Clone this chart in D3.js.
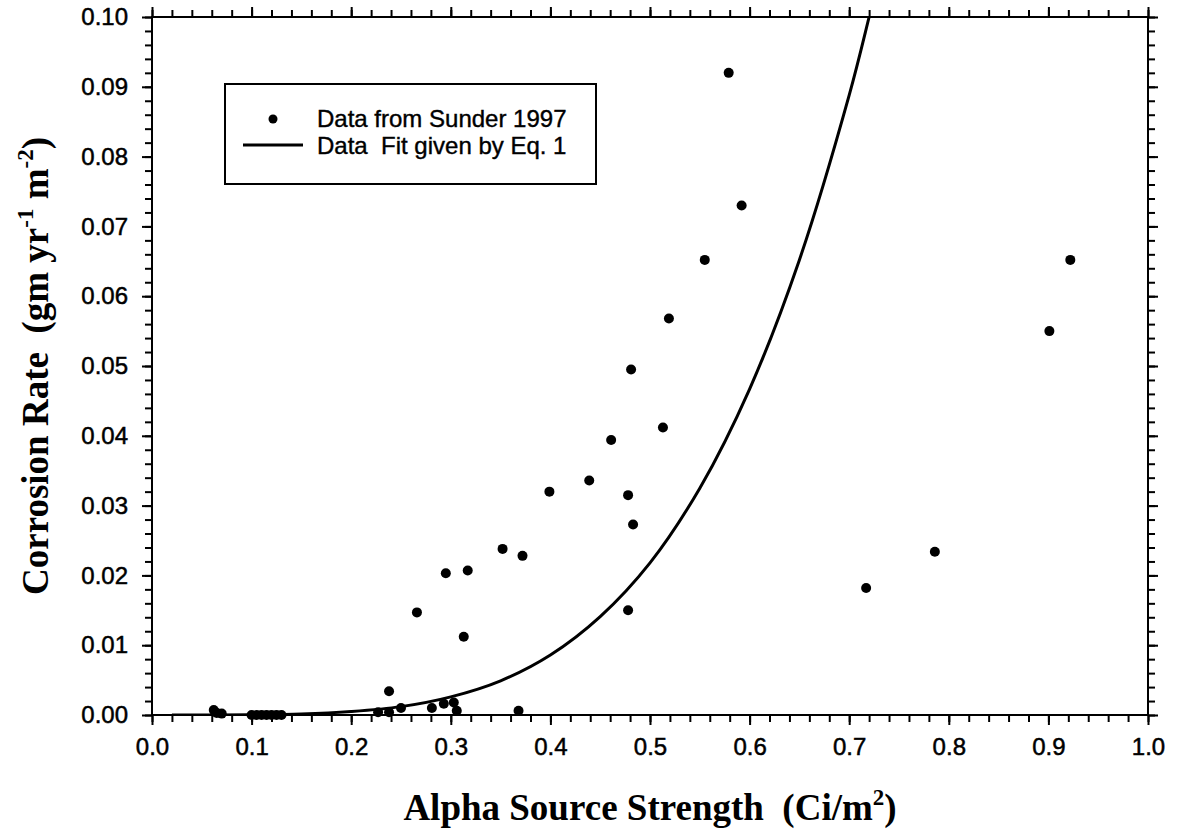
<!DOCTYPE html>
<html>
<head>
<meta charset="utf-8">
<script src="https://cdn.jsdelivr.net/npm/d3@7"></script>
<style>
  body { margin: 0; background: #fff; }
  .tick-label { font-family: Arial, "Liberation Sans", sans-serif; font-size: 24px; fill: #000; stroke: #000; stroke-width: 0.5px; }
  .axis-title { font-family: "Times New Roman", "Liberation Serif", serif; font-weight: bold; font-size: 37px; fill: #000; }
  .legend-text { font-family: Arial, "Liberation Sans", sans-serif; font-size: 24px; fill: #000; stroke: #000; stroke-width: 0.4px; }
</style>
</head>
<body>
<div id="chart"></div>
<script>
// measured points (Sunder 1997)
const sunderX = [0.062, 0.065, 0.070, 0.100, 0.105, 0.110, 0.115, 0.120, 0.125, 0.130,
  0.227, 0.238, 0.238, 0.250, 0.281, 0.293, 0.303, 0.306, 0.368,
  0.266, 0.295, 0.313, 0.317, 0.352, 0.372, 0.399, 0.439, 0.461, 0.478,
  0.481, 0.483, 0.478, 0.513, 0.519, 0.555, 0.579, 0.592, 0.717, 0.786, 0.901, 0.922];
const sunderY = [0.0007, 0.0003, 0.0002, 0, 0, 0, 0, 0, 0, 0,
  0.0004, 0.0004, 0.0034, 0.0010, 0.0010, 0.0016, 0.0018, 0.0006, 0.0006,
  0.0147, 0.0203, 0.0112, 0.0207, 0.0238, 0.0228, 0.0320, 0.0336, 0.0394, 0.0315,
  0.0495, 0.0273, 0.0150, 0.0412, 0.0568, 0.0652, 0.0920, 0.0730, 0.0182, 0.0234, 0.0550, 0.0652];

// fit curve (Eq. 1)
const fitX = [0.02, 0.10, 0.15, 0.20, 0.25, 0.30, 0.35, 0.40, 0.45, 0.50, 0.55, 0.60, 0.65, 0.70, 0.72, 0.74];
const fitY = [0.0000, 0.00003, 0.00014, 0.0005, 0.0012, 0.0026, 0.0049, 0.0086, 0.0141, 0.0218, 0.0325, 0.0467, 0.0652, 0.0888, 0.1000, 0.1120];

const xTicks = [0.0, 0.1, 0.2, 0.3, 0.4, 0.5, 0.6, 0.7, 0.8, 0.9, 1.0];
const yTicks = [0.00, 0.01, 0.02, 0.03, 0.04, 0.05, 0.06, 0.07, 0.08, 0.09, 0.10];
const legendLabels = ["Data from Sunder 1997", "Data  Fit given by Eq. 1"];

const W = 1177, H = 838;
const M = { top: 17, right: 29, bottom: 123, left: 152 };
const iw = W - M.left - M.right;
const ih = H - M.top - M.bottom;

const svg = d3.select("#chart").append("svg")
  .attr("width", W)
  .attr("height", H);

const g = svg.append("g").attr("transform", `translate(${M.left},${M.top})`);

const x = d3.scaleLinear().domain([0, 1]).range([0, iw]);
const y = d3.scaleLinear().domain([0, 0.1]).range([ih, 0]);

const xMinor = d3.range(0, 51).map(i => i * 0.02);
const yMinor = d3.range(0, 51).map(i => i * 0.002);

function styleAxis(sel) {
  sel.select(".domain").remove();
  sel.selectAll("line").attr("stroke", "#000").attr("stroke-width", 2);
}

// minor ticks on all four sides
g.append("g").attr("transform", `translate(0,${ih})`)
  .call(d3.axisBottom(x).tickValues(xMinor).tickSize(7).tickFormat(""))
  .call(styleAxis);
g.append("g")
  .call(d3.axisTop(x).tickValues(xMinor).tickSize(7).tickFormat(""))
  .call(styleAxis);
g.append("g")
  .call(d3.axisLeft(y).tickValues(yMinor).tickSize(7).tickFormat(""))
  .call(styleAxis);
g.append("g").attr("transform", `translate(${iw},0)`)
  .call(d3.axisRight(y).tickValues(yMinor).tickSize(7).tickFormat(""))
  .call(styleAxis);

// major ticks with labels
g.append("g").attr("transform", `translate(0,${ih})`)
  .call(d3.axisBottom(x).tickValues(xTicks).tickSize(10).tickPadding(13).tickFormat(d3.format(".1f")))
  .call(styleAxis)
  .call(s => s.selectAll("text").attr("class", "tick-label").attr("font-size", null).attr("font-family", null));
g.append("g")
  .call(d3.axisLeft(y).tickValues(yTicks).tickSize(10).tickPadding(14).tickFormat(d3.format(".2f")))
  .call(styleAxis)
  .call(s => s.selectAll("text").attr("class", "tick-label").attr("font-size", null).attr("font-family", null));
g.append("g")
  .call(d3.axisTop(x).tickValues(xTicks).tickSize(10).tickFormat(""))
  .call(styleAxis);
g.append("g").attr("transform", `translate(${iw},0)`)
  .call(d3.axisRight(y).tickValues(yTicks).tickSize(10).tickFormat(""))
  .call(styleAxis);

// frame
g.append("rect")
  .attr("width", iw).attr("height", ih)
  .attr("fill", "none").attr("stroke", "#000").attr("stroke-width", 2);

// fit curve
g.append("clipPath").attr("id", "clip")
  .append("rect").attr("width", iw).attr("height", ih);

const fitData = fitX.map((v, i) => [v, fitY[i]]);
g.append("path")
  .datum(fitData)
  .attr("clip-path", "url(#clip)")
  .attr("fill", "none")
  .attr("stroke", "#000")
  .attr("stroke-width", 3)
  .attr("d", d3.line().x(d => x(d[0])).y(d => y(d[1])).curve(d3.curveCatmullRom));

// data points
const pts = sunderX.map((v, i) => ({ x: v, y: sunderY[i] }));
g.selectAll(".pt")
  .data(pts)
  .join("circle")
    .attr("class", "pt")
    .attr("cx", d => x(d.x))
    .attr("cy", d => y(d.y))
    .attr("r", 5)
    .attr("fill", "#000");

// legend
const lg = svg.append("g").attr("transform", "translate(225,84)");
lg.append("rect")
  .attr("width", 371).attr("height", 100)
  .attr("fill", "#fff").attr("stroke", "#000").attr("stroke-width", 2);
lg.append("circle").attr("cx", 48).attr("cy", 35).attr("r", 4.5).attr("fill", "#000");
lg.append("line")
  .attr("x1", 18).attr("x2", 78).attr("y1", 61).attr("y2", 61)
  .attr("stroke", "#000").attr("stroke-width", 3);
lg.selectAll(".legend-text")
  .data(legendLabels)
  .join("text")
    .attr("class", "legend-text")
    .attr("x", 92)
    .attr("y", (d, i) => 35 + i * 27)
    .attr("dy", "0.35em")
    .attr("xml:space", "preserve")
    .style("white-space", "pre")
    .text(d => d);

// axis titles
const xt = svg.append("text")
  .attr("class", "axis-title")
  .attr("x", M.left + iw / 2)
  .attr("y", 820)
  .attr("text-anchor", "middle")
  .style("white-space", "pre");
xt.append("tspan").text("Alpha Source Strength  (Ci/m");
xt.append("tspan").attr("dy", -15).attr("font-size", 23).text("2");
xt.append("tspan").attr("dy", 15).text(")");

const yt = svg.append("text")
  .attr("class", "axis-title")
  .attr("transform", `translate(48,${M.top + ih / 2}) rotate(-90)`)
  .attr("text-anchor", "middle")
  .style("white-space", "pre");
yt.append("tspan").text("Corrosion Rate  (gm yr");
yt.append("tspan").attr("dy", -15).attr("font-size", 23).text("-1");
yt.append("tspan").attr("dy", 15).text(" m");
yt.append("tspan").attr("dy", -15).attr("font-size", 23).text("-2");
yt.append("tspan").attr("dy", 15).text(")");
</script>
</body>
</html>
